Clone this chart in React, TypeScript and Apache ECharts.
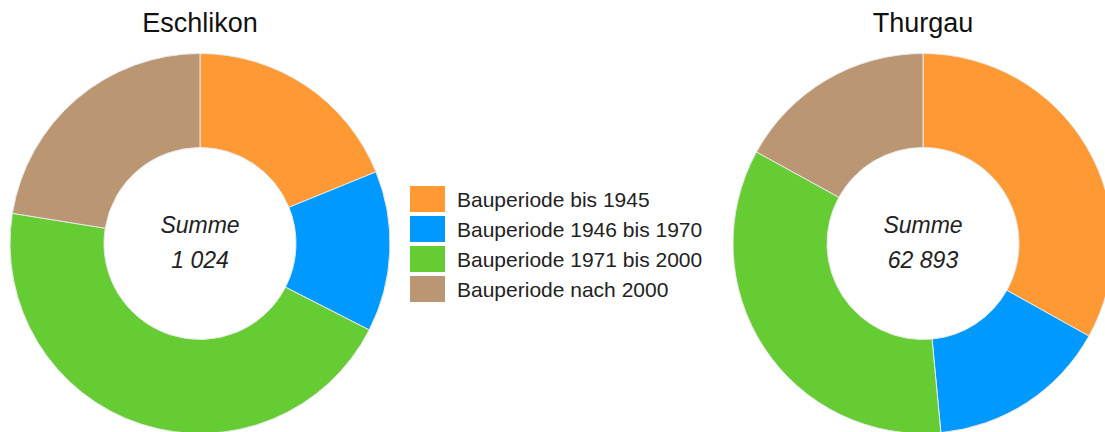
import React, { useEffect, useRef } from "react";
import * as echarts from "echarts";

const categories = [
  "Bauperiode bis 1945",
  "Bauperiode 1946 bis 1970",
  "Bauperiode 1971 bis 2000",
  "Bauperiode nach 2000",
];
const colors = ["#FF9933", "#0099FF", "#66CC33", "#BB9673"];
const eschlikonValues = [193, 140, 461, 230];
const thurgauValues = [20818, 9685, 21698, 10692];
const regionNames = ["Eschlikon", "Thurgau"];
const sumLabel = "Summe";

const FONT = "Arial, 'Liberation Sans', sans-serif";

function fmt(n: number): string {
  return String(n).replace(/\B(?=(\d{3})+(?!\d))/g, " ");
}
function sum(a: number[]): number {
  return a.reduce((s, v) => s + v, 0);
}

export default function App() {
  const ref = useRef<HTMLDivElement>(null);
  useEffect(() => {
    if (!ref.current) return;
    const chart = echarts.init(ref.current, undefined, { renderer: "svg" });
    const centers: [number, number][] = [
      [200, 243.5],
      [923, 243.5],
    ];
    const makeData = (vals: number[]) =>
      categories.map((c, i) => ({
        name: c,
        value: vals[i],
        itemStyle: { color: colors[i] },
      }));
    const allVals = [eschlikonValues, thurgauValues];
    const graphics: any[] = [];
    regionNames.forEach((r, i) => {
      graphics.push({
        type: "text",
        x: centers[i][0],
        y: 23,
        style: {
          text: r,
          font: `27px ${FONT}`,
          fill: "#111",
          align: "center",
          verticalAlign: "middle",
        },
      });
      graphics.push({
        type: "text",
        x: centers[i][0],
        y: 225,
        style: {
          text: sumLabel,
          font: `italic 23px ${FONT}`,
          fill: "#222",
          align: "center",
          verticalAlign: "middle",
        },
      });
      graphics.push({
        type: "text",
        x: centers[i][0],
        y: 260,
        style: {
          text: fmt(sum(allVals[i])),
          font: `italic 23px ${FONT}`,
          fill: "#222",
          align: "center",
          verticalAlign: "middle",
        },
      });
    });
    chart.setOption({
      animation: false,
      legend: {
        orient: "vertical",
        left: 405,
        top: 181,
        icon: "rect",
        itemWidth: 35,
        itemHeight: 26,
        itemGap: 4,
        data: categories,
        selectedMode: false,
        itemStyle: { borderWidth: 0 },
        textStyle: {
          fontFamily: FONT,
          fontSize: 21,
          color: "#222",
          padding: [0, 0, 0, 7],
          lineHeight: 26,
        },
      },
      graphic: graphics,
      series: regionNames.map((r, i) => ({
        type: "pie",
        name: r,
        center: centers[i],
        radius: [96, 190],
        startAngle: 90,
        clockwise: true,
        label: { show: false },
        labelLine: { show: false },
        emphasis: { disabled: true },
        itemStyle: { borderColor: "#e8e8e8", borderWidth: 1 },
        data: makeData(allVals[i]),
      })),
    });
    return () => chart.dispose();
  }, []);
  return (
    <div
      ref={ref}
      style={{
        position: "fixed",
        left: 0,
        top: 0,
        width: 1105,
        height: 432,
        background: "#fff",
      }}
    />
  );
}
